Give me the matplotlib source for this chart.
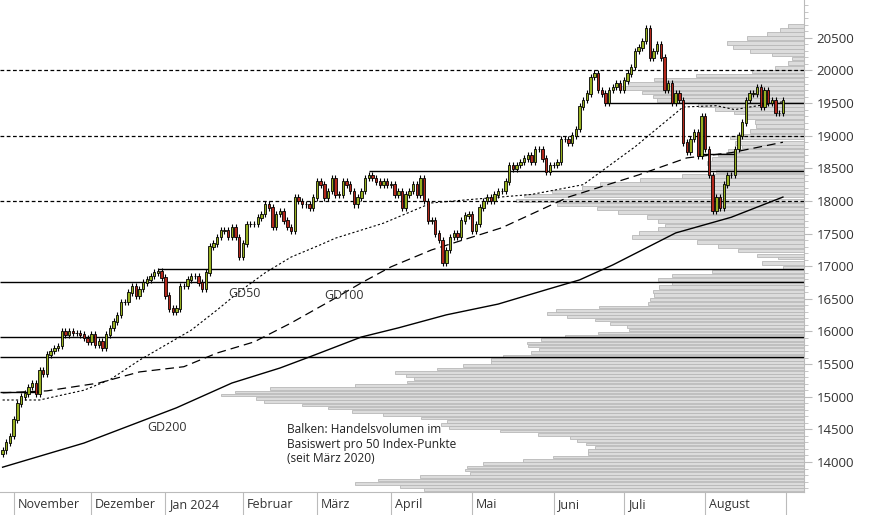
import numpy as np
import pandas as pd
import matplotlib
matplotlib.use("Agg")
import matplotlib.pyplot as plt
import matplotlib.transforms as mtransforms

plt.rcParams['font.family'] = ['Open Sans', 'DejaVu Sans']

# ── Daily closes (trading days 27.10.2023 – 30.08.2024) ─────────────────────
closes = [
    14180,
    14300, 14400, 14650, 14900, 15000,
    15050, 15150, 15200, 15050, 15400,
    15350, 15650, 15700, 15750, 15780,
    16000, 15950, 16000, 15980,
    15980, 15950, 15900, 15850, 15950,
    15800, 15850, 15750, 15950, 16050,
    16150, 16250, 16450, 16450, 16600,
    16700, 16550, 16650, 16750, 16800,
    16850, 16900, 16920, 16830,
    16550, 16350, 16300, 16350,
    16700, 16700, 16800, 16850, 16850,
    16750, 16650, 16900, 17300,
    17350, 17450, 17550, 17550, 17450,
    17600, 17450, 17150, 17350, 17650,
    17650, 17650, 17750, 17800, 17950,
    17900, 17600, 17800, 17850, 17700,
    17600, 17550, 18050, 18000,
    17950, 17950, 17900, 18050, 18300,
    18250, 18050, 18150, 18350, 18100,
    18100, 18300, 18250, 18150, 17950,
    18050, 18150, 18350, 18400, 18350,
    18300, 18250, 18300, 18250,
    18250, 18100, 18150, 17900, 18100,
    18150, 18250, 18100, 18350, 18000,
    17700, 17700, 17500, 17400, 17050,
    17250, 17450, 17500, 17450, 17700,
    17780, 17800, 17550, 17650, 17900,
    18000, 18050, 18000, 18100, 18150,
    18150, 18300, 18550, 18500, 18550,
    18600, 18650, 18700, 18600, 18800,
    18800, 18650, 18450, 18550,
    18550, 18600, 18950, 18950, 18900,
    19000, 19100, 19450, 19550, 19650,
    19900, 19950, 19700, 19650,
    19500, 19700, 19750, 19800, 19700,
    19850, 19950, 20050, 20300,
    20350, 20450, 20650, 20200, 20300,
    20400, 20200, 19700, 19800, 19500,
    19650, 19550, 18900, 18750, 18950,
    19050, 18700, 19300, 18800, 18400,
    17850, 18050, 17900, 18250, 18400,
    18400, 18800, 19000, 19200, 19550,
    19650, 19650, 19750, 19450, 19700,
    19500, 19550, 19350, 19350, 19550,
]
first_open = 14120

holidays = ["2023-11-23", "2023-12-25", "2024-01-01", "2024-01-15", "2024-02-19",
            "2024-03-29", "2024-05-27", "2024-06-19", "2024-07-04"]
month_labels = ["November", "Dezember", "Jan 2024", "Februar", "März", "April",
                "Mai", "Juni", "Juli", "August"]

# moving averages sampled from the chart (trading-day index, value)
gd50_idx = [0, 10, 22, 29, 37, 44, 51, 58, 64, 71, 78, 86, 90, 103, 116, 126, 143, 157, 171, 184, 193, 198, 202, 211]
gd50_val = [14950, 14950, 15100, 15260, 15560, 15790, 16020, 16330, 16610, 16900, 17140, 17330,
            17430, 17660, 17970, 18020, 18100, 18250, 18830, 19440, 19460, 19400, 19440, 19520]
gd100_idx = [0, 12, 26, 37, 49, 58, 68, 78, 89, 97, 105, 116, 135, 153, 172, 185, 197, 211]
gd100_val = [15060, 15090, 15210, 15380, 15460, 15670, 15840, 16130, 16480, 16745, 16990,
             17250, 17590, 18060, 18400, 18660, 18740, 18900]
gd200_idx = [0, 22, 47, 62, 75, 83, 97, 107, 120, 134, 147, 156, 165, 182, 197, 211]
gd200_val = [13920, 14290, 14830, 15210, 15440, 15610, 15915, 16055, 16255, 16420, 16640,
             16790, 17020, 17510, 17750, 18060]

# volume profile: price level and bar length (left end in pixels from x=0)
vp_price = [13525, 13575, 13625, 13675, 13725, 13775, 13825, 13875, 13925, 13975,
            14025, 14075, 14125, 14175, 14225, 14275, 14325, 14375, 14425, 14475,
            14525, 14575, 14625, 14675, 14725, 14775, 14825, 14875, 14925, 14975,
            15025, 15075, 15125, 15175, 15225, 15275, 15325, 15375, 15425, 15475,
            15525, 15575, 15625, 15675, 15725, 15775, 15825, 15875, 15925, 15975,
            16025, 16075, 16125, 16175, 16225, 16275, 16325, 16375, 16425,
            16490, 16560, 16610, 16680, 16740, 16800, 16860, 16920, 16980, 17050,
            17130, 17170, 17240, 17310, 17370, 17450, 17510, 17570, 17630, 17690,
            17760, 17830, 17890, 17950, 18010, 18080, 18140, 18200, 18260, 18320,
            18380, 18450, 18510, 18580, 18640, 18710, 18770, 18830, 18890, 18970,
            19010, 19070, 19150, 19210, 19290, 19350, 19410, 19470, 19550, 19600,
            19660, 19730, 19790, 19860, 19920, 19980, 20040, 20120, 20180, 20240,
            20300, 20360, 20420, 20500, 20560, 20620, 20680]
vp_left = [447, 424, 400, 355, 378, 420, 470, 465, 467, 483,
           523, 553, 588, 588, 595, 586, 577, 570, 538, 500,
           449, 441, 447, 421, 383, 352, 328, 302, 264, 256,
           221, 235, 270, 355, 407, 414, 406, 395, 437, 463,
           491, 491, 503, 531, 539, 528, 527, 541, 565, 598,
           629, 627, 610, 595, 567, 547, 556, 599, 648,
           650, 654, 653, 659, 672, 658, 672, 712, 783, 762,
           778, 757, 738, 718, 697, 632, 639, 658, 665, 658,
           647, 618, 597, 557, 516, 524, 552, 582, 600, 640,
           682, 716, 710, 707, 712, 718, 728, 742, 735, 730,
           737, 750, 756, 755, 747, 734, 715, 698, 657, 653,
           642, 620, 628, 654, 696, 752, 775, 788, 792, 772,
           750, 733, 727, 747, 767, 780, 788]

# ── Derived series ───────────────────────────────────────────────────────────
dates = pd.bdate_range("2023-10-27", "2024-08-30")
dates = dates[~dates.isin(pd.to_datetime(holidays))]
assert len(dates) == len(closes), (len(dates), len(closes))
c = np.array(closes, float)
o = np.r_[first_open, c[:-1]]
hi = np.maximum(o, c) + 50
lo = np.minimum(o, c) - 50
idx = np.arange(len(c))
month_pos = [3] + [i for i in range(4, len(dates)) if dates[i].month != dates[i - 1].month]
month_pos = month_pos[:10]

# ── Figure ───────────────────────────────────────────────────────────────────
W, H = 874, 515
fig = plt.figure(figsize=(W / 100, H / 100), dpi=100)
ax_r, ax_b = 804 / W, (H - 492) / H
ax = fig.add_axes([0.0, ax_b, ax_r, 1 - ax_b])
XMIN, XMAX = -0.7, 216.7
YMIN, YMAX = 13540, 21080
ax.set_xlim(XMIN, XMAX)
ax.set_ylim(YMIN, YMAX)

# volume profile on twin axis (pixel units)
axv = ax.twiny()
axv.set_xlim(804, 0)
axv.set_ylim(YMIN, YMAX)
vp_p = np.array(vp_price, float)
hgt = np.gradient(vp_p) * 0.82
axv.barh(vp_p, 804 - np.array(vp_left), height=hgt, left=0,
         color='#dcdcdc', edgecolor='#b8b8b8', linewidth=0.6, zorder=1)
axv.axis('off')
ax.set_zorder(axv.get_zorder() + 1)
ax.patch.set_visible(False)

# horizontal lines
for lv in (18000, 19000, 20000):
    ax.axhline(lv, color='black', lw=0.9, ls=(0, (3, 2)), zorder=2)
for lv, x0 in ((19500, 163), (18460, 99), (16960, 42), (16760, XMIN), (15915, XMIN), (15610, XMIN)):
    ax.hlines(lv, x0, XMAX, color='black', lw=1.0, zorder=2)
ax.hlines(15070, XMIN, 10, color='black', lw=1.0, zorder=2)
ax.hlines(18720, 188, 198, color='black', lw=1.0, zorder=2)

# moving averages
ax.plot(gd50_idx, gd50_val, color='black', lw=0.8, ls=(0, (2, 2)), zorder=3)
ax.plot(gd100_idx, gd100_val, color='black', lw=0.9, ls=(0, (7, 4)), zorder=3)
ax.plot(gd200_idx, gd200_val, color='black', lw=1.0, zorder=3)

# candles
up = c >= o
ax.vlines(idx, lo, hi, color='black', lw=0.8, zorder=4)
cols = np.where(up, '#97b020', '#b3281c')
ax.bar(idx, np.abs(c - o) + 8, bottom=np.minimum(o, c) - 4, width=0.65,
       color=cols, edgecolor='black', linewidth=0.6, zorder=5)

# labels
ax.text(61, 16530, "GD50", fontsize=9, color='#333333')
ax.text(87, 16500, "GD100", fontsize=9, color='#333333')
ax.text(39, 14480, "GD200", fontsize=9, color='#333333')
ax.text(77, 14590, "Balken: Handelsvolumen im\nBasiswert pro 50 Index-Punkte\n(seit März 2020)",
        fontsize=8.6, color='#222222', va='top', linespacing=1.15)

# axes styling
for s in ('top', 'left'):
    ax.spines[s].set_visible(False)
ax.spines['right'].set_color('#bbbbbb')
ax.spines['bottom'].set_color('#bbbbbb')
ax.yaxis.tick_right()
ax.set_yticks(np.arange(14000, 20501, 500))
ax.set_yticks(np.arange(13600, 21001, 100), minor=True)
ax.tick_params(axis='y', which='major', colors='#bbbbbb', labelcolor='#333333',
               labelsize=9.5, length=6, pad=3)
ax.tick_params(axis='y', which='minor', colors='#bbbbbb', length=3)
ax.set_xticks(month_pos + [211.8])
ax.set_xticklabels([])
ax.tick_params(axis='x', colors='#bbbbbb', length=24, width=0.8)
trans = mtransforms.blended_transform_factory(ax.transData, ax.transAxes)
for p, lab in zip(month_pos, month_labels):
    ax.text(p + 1.0, -0.012, lab, transform=trans, ha='left', va='top',
            fontsize=9, color='#333333')

fig.savefig("out.png", dpi=100)
